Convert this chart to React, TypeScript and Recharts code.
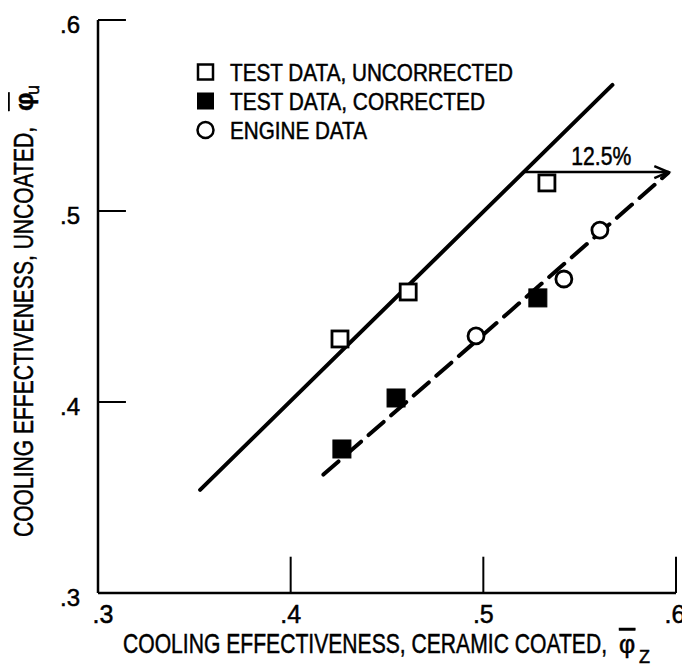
import { ScatterChart, Scatter, XAxis, YAxis, ReferenceLine } from "recharts";

const FONT = "'Liberation Sans', 'DejaVu Sans', sans-serif";

const X_TICKS = [0.3, 0.4, 0.5, 0.6];
const Y_TICKS = [0.3, 0.4, 0.5, 0.6];
const TICK_LABELS = [".3", ".4", ".5", ".6"];

// measured points
const uncorrected = [
  { x: 0.4256, y: 0.433 },
  { x: 0.461, y: 0.4576 },
  { x: 0.533, y: 0.5147 },
];
const corrected = [
  { x: 0.4266, y: 0.3754 },
  { x: 0.4547, y: 0.4021 },
  { x: 0.5283, y: 0.4545 },
];
const engine = [
  { x: 0.4962, y: 0.4346 },
  { x: 0.5418, y: 0.4644 },
  { x: 0.5605, y: 0.49 },
];

// faired lines
const uncoatedLine = [
  { x: 0.353, y: 0.354 },
  { x: 0.567, y: 0.566 },
];
const coatedLine = [
  { x: 0.417, y: 0.362 },
  { x: 0.596, y: 0.52 },
];
const shiftArrow = [
  { x: 0.5216, y: 0.5204 },
  { x: 0.596, y: 0.5204 },
];
const SHIFT_LABEL = "12.5%";

const LEGEND = [
  { name: "TEST DATA, UNCORRECTED", kind: "open", len: 283 },
  { name: "TEST DATA, CORRECTED", kind: "filled", len: 255 },
  { name: "ENGINE DATA", kind: "circle", len: 137 },
];

// slight outline so the squeezed glyphs look like the lettering in the scan
const INK = { fill: "#000", stroke: "#000", strokeWidth: 0.5 };

const noDot = () => <g />;

const OpenSquare = (p: any) => (
  <rect x={p.cx - 8} y={p.cy - 8} width={16} height={16} fill="#fff" stroke="#000" strokeWidth={2.8} />
);
const FilledSquare = (p: any) => (
  <rect x={p.cx - 9} y={p.cy - 9} width={18} height={18} fill="#000" stroke="#000" strokeWidth={1} />
);
const OpenCircle = (p: any) => <circle cx={p.cx} cy={p.cy} r={8} fill="#fff" stroke="#000" strokeWidth={2.8} />;

const ArrowEnd = (p: any) => {
  if (p.index !== shiftArrow.length - 1) return <g />;
  return (
    <g>
      <path d={`M${p.cx - 14},${p.cy - 6} L${p.cx},${p.cy} L${p.cx - 14},${p.cy + 6}`} fill="none" stroke="#000" strokeWidth={2.5} />
      <text x={p.cx - 97} y={p.cy - 7} textLength={60} lengthAdjust="spacingAndGlyphs" fontSize={26} fontFamily={FONT} {...INK}>
        {SHIFT_LABEL}
      </text>
    </g>
  );
};

const XTick = (p: any) => (
  <text
    x={p.x + (p.index === 0 ? 5 : p.index === 3 ? -1 : 0)}
    y={p.y + 21}
    textAnchor="middle"
    dominantBaseline="central"
    fontSize={25}
    fontFamily={FONT}
    {...INK}
  >
    {TICK_LABELS[p.index]}
  </text>
);
const YTick = (p: any) => (
  <text x={p.x - 18} y={p.y + 4} textAnchor="end" dominantBaseline="central" fontSize={24} fontFamily={FONT} {...INK}>
    {TICK_LABELS[p.index]}
  </text>
);

const XTitle = () => (
  <g fontFamily={FONT} {...INK}>
    <text x={115} y={645} fontSize={28} textLength={484} lengthAdjust="spacingAndGlyphs">
      COOLING EFFECTIVENESS, CERAMIC COATED,
    </text>
    <text x={611} y={645} fontSize={25} textDecoration="overline">
      {"\u03C6"}
    </text>
    <text x={631} y={655} fontSize={18}>
      Z
    </text>
  </g>
);
const YTitle = () => (
  <g fontFamily={FONT} {...INK}>
    <text transform="translate(25, 529) rotate(-90)" fontSize={28} textLength={410} lengthAdjust="spacingAndGlyphs">
      COOLING EFFECTIVENESS, UNCOATED,
    </text>
    <text transform="translate(25, 103) rotate(-90)" fontSize={26} fontWeight="bold" textDecoration="overline">
      {"\u03C6"}
    </text>
    <text transform="translate(31, 87) rotate(-90)" fontSize={18}>
      u
    </text>
  </g>
);

const LegendBox = () => (
  <svg width={380} height={90} style={{ position: "absolute", left: 182, top: 50 }}>
    {LEGEND.map((l, i) => {
      const cy = 14 + i * 29;
      return (
        <g key={l.name}>
          {l.kind === "open" && <rect x={8} y={cy - 7.5} width={15} height={15} fill="#fff" stroke="#000" strokeWidth={2.5} />}
          {l.kind === "filled" && <rect x={7} y={cy - 8.5} width={17} height={17} fill="#000" />}
          {l.kind === "circle" && <circle cx={15.5} cy={cy} r={8} fill="#fff" stroke="#000" strokeWidth={2.5} />}
          <text x={40} y={cy + 9} fontSize={24} fontFamily={FONT} textLength={l.len} lengthAdjust="spacingAndGlyphs" {...INK}>
            {l.name}
          </text>
        </g>
      );
    })}
  </svg>
);

export default function App() {
  return (
    <div style={{ width: 682, height: 658, background: "#fff", position: "relative" }}>
      <ScatterChart width={682} height={658} margin={{ top: 12, right: 14, bottom: 0, left: 4 }}>
        <XAxis
          type="number"
          dataKey="x"
          domain={[0.3, 0.6]}
          ticks={X_TICKS}
          tick={<XTick />}
          tickSize={0}
          tickMargin={0}
          tickLine={false}
          axisLine={{ stroke: "#000", strokeWidth: 2.5 }}
          height={73}
          label={<XTitle />}
        />
        <YAxis
          type="number"
          dataKey="y"
          domain={[0.3, 0.6]}
          ticks={Y_TICKS}
          tick={<YTick />}
          tickSize={0}
          tickMargin={0}
          tickLine={false}
          axisLine={{ stroke: "#000", strokeWidth: 2.5 }}
          width={86}
          label={<YTitle />}
        />
        {Y_TICKS.slice(1).map((v) => (
          <ReferenceLine
            key={"y" + v}
            segment={[{ x: 0.3, y: v }, { x: 0.3145, y: v }]}
            stroke="#000"
            strokeWidth={2}
            ifOverflow="visible"
          />
        ))}
        {X_TICKS.slice(1).map((v) => (
          <ReferenceLine
            key={"x" + v}
            segment={[{ x: v, y: 0.3 }, { x: v, y: 0.319 }]}
            stroke="#000"
            strokeWidth={2}
            ifOverflow="visible"
          />
        ))}
        <Scatter data={uncoatedLine} line={{ stroke: "#000", strokeWidth: 4, strokeLinecap: "round" }} shape={noDot} isAnimationActive={false} legendType="none" />
        <Scatter data={coatedLine} line={{ stroke: "#000", strokeWidth: 4, strokeDasharray: "20 10", strokeLinecap: "round" }} shape={noDot} isAnimationActive={false} legendType="none" />
        <Scatter data={shiftArrow} line={{ stroke: "#000", strokeWidth: 2.5 }} shape={<ArrowEnd />} isAnimationActive={false} legendType="none" />
        <Scatter data={uncorrected} shape={<OpenSquare />} isAnimationActive={false} />
        <Scatter data={corrected} shape={<FilledSquare />} isAnimationActive={false} />
        <Scatter data={engine} shape={<OpenCircle />} isAnimationActive={false} />
      </ScatterChart>
      <LegendBox />
    </div>
  );
}
